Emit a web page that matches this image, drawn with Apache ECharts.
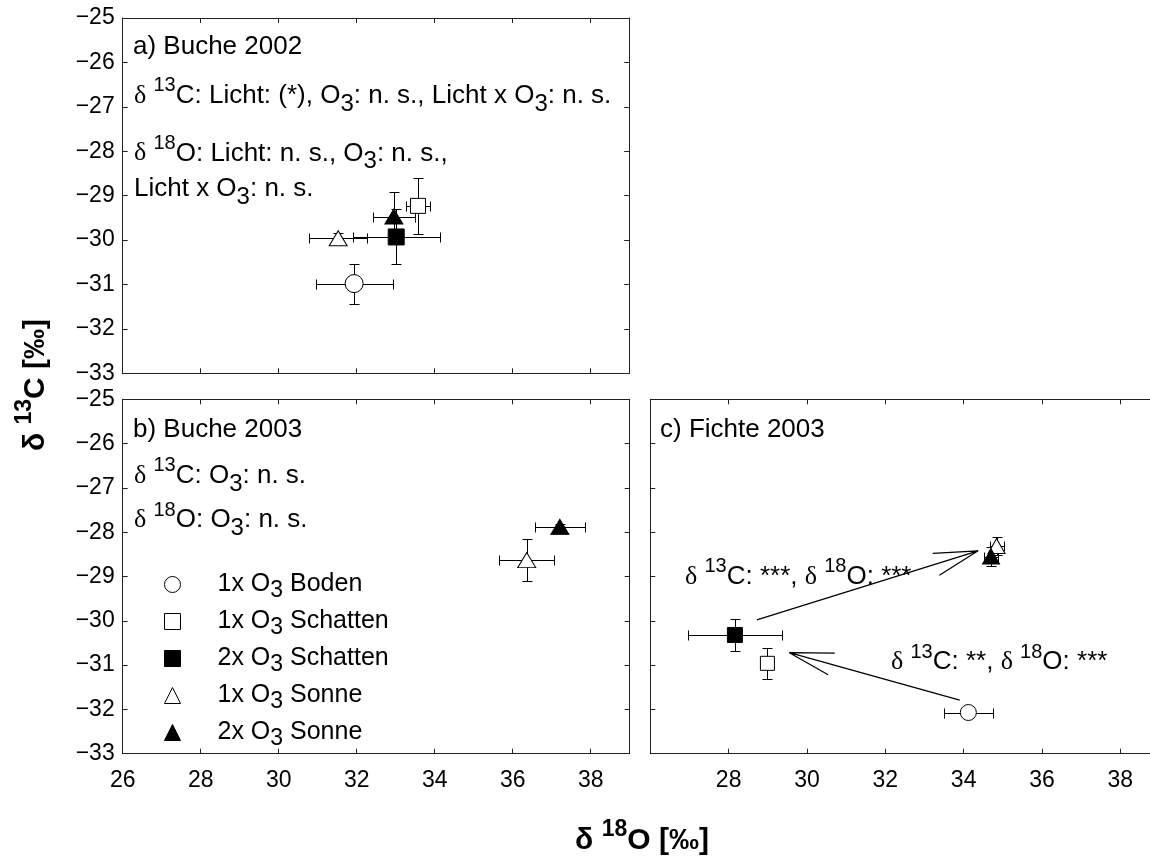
<!DOCTYPE html>
<html><head><meta charset="utf-8">
<script src="https://cdn.jsdelivr.net/npm/echarts@6/dist/echarts.min.js"></script>
<style>html,body{margin:0;padding:0;background:#fff}#c{width:1150px;height:859px}</style>
</head><body><div id="c"></div>
<script>
// ---------------- data ----------------
const groups = ['1x O3 Boden', '1x O3 Schatten', '2x O3 Schatten', '1x O3 Sonne', '2x O3 Sonne'];
// a) Buche 2002
const a_d18O    = [31.94, 33.58, 33.02, 31.53, 32.96];
const a_d13C    = [-30.98, -29.23, -29.93, -29.96, -29.47];
const a_err18O  = [0.99, 0.32, 1.12, 0.74, 0.54];
const a_err13C  = [0.45, 0.63, 0.62, 0.13, 0.56];
// b) Buche 2003 (only sun leaves)
const b_d18O    = [null, null, null, 36.36, 37.21];
const b_d13C    = [null, null, null, -28.63, -27.88];
const b_err18O  = [null, null, null, 0.70, 0.65];
const b_err13C  = [null, null, null, 0.48, 0.06];
// c) Fichte 2003
const c_d18O    = [34.12, 28.99, 28.16, 34.84, 34.70];
const c_d13C    = [-32.07, -30.96, -30.32, -28.31, -28.55];
const c_err18O  = [0.63, 0.10, 1.19, 0.18, 0.18];
const c_err13C  = [0.08, 0.35, 0.37, 0.21, 0.22];
// arrows in panel c (tail -> tip -> arm -> tip -> arm)
const arrow1_x = [28.72, 34.37, 33.21, 34.37, 33.38];
const arrow1_y = [-29.98, -28.42, -28.48, -28.42, -28.97];
const arrow2_x = [33.90, 29.55, 30.71, 29.55, 30.54];
const arrow2_y = [-31.79, -30.72, -30.73, -30.72, -31.22];
// axes
const xMin = 26, xMax = 39, xStep = 2;
const yMin = -33, yMax = -25, yStep = 1;

// ---------------- styling ----------------
const SANS = "'Liberation Sans', Arial, sans-serif";
const SERIF = "'Liberation Serif', 'Times New Roman', serif";
const LINE = '#222';
const symbols = ['circle', 'rect', 'rect', 'triangle', 'triangle'];
const fills = ['#fff', '#fff', '#000', '#fff', '#000'];
const sizesA = [18, 15, 16, [18, 15], [18, 15]];
const sizesC = [16, 14, 15, [17, 15], [17, 15]];

const RICH = {
  t: {fontSize: 26, fontFamily: SANS, lineHeight: 40, fill: '#000'},
  d: {fontSize: 26, fontFamily: SERIF, lineHeight: 40, fill: '#000'},
  p: {fontSize: 20, fontFamily: SANS, lineHeight: 18, padding: [0, 0, 20, 0], fill: '#000'},
  b: {fontSize: 24, fontFamily: SANS, lineHeight: 18, padding: [16, 0, 0, 0], fill: '#000'}
};
const RICHB = {
  t: {fontSize: 30, fontFamily: SANS, fontWeight: 'bold', lineHeight: 40, fill: '#000'},
  p: {fontSize: 23, fontFamily: SANS, fontWeight: 'bold', lineHeight: 20, padding: [0, 0, 22, 0], fill: '#000'}
};
function txt(x, top, text) {
  return {type: 'text', x: x, y: top, silent: true,
    style: {text: text, rich: RICH, fill: '#000', align: 'left', verticalAlign: 'top'}};
}
const minusFmt = v => (v < 0 ? '\u2212' + Math.abs(v) : String(v));

const grids = [
  {left: 122.7, top: 18, width: 506.5, height: 355.3},
  {left: 122.7, top: 399.3, width: 507, height: 354.4},
  {left: 650.3, top: 399.3, width: 509.2, height: 354.4}
];

const xAxes = [], yAxes = [];
grids.forEach((g, gi) => {
  ['bottom', 'top'].forEach(pos => {
    xAxes.push({
      type: 'value', gridIndex: gi, position: pos, min: xMin, max: xMax, interval: xStep,
      axisLine: {show: true, onZero: false, lineStyle: {color: LINE, width: 1}},
      axisTick: {show: true, inside: true, length: 5, lineStyle: {color: LINE}},
      splitLine: {show: false},
      axisLabel: {
        show: pos === 'bottom' && gi > 0, margin: 15, color: '#000', fontSize: 23, fontFamily: SANS,
        formatter: v => (v === xMax || (gi === 2 && v === xMin)) ? '' : String(v)
      }
    });
  });
  ['left', 'right'].forEach(pos => {
    yAxes.push({
      type: 'value', gridIndex: gi, position: pos, min: yMin, max: yMax, interval: yStep,
      axisLine: {show: true, onZero: false, lineStyle: {color: LINE, width: 1}},
      axisTick: {show: true, inside: true, length: 5, lineStyle: {color: LINE}},
      splitLine: {show: false},
      axisLabel: {show: pos === 'left' && gi < 2, margin: 8, color: '#000', fontSize: 23, fontFamily: SANS,
        formatter: minusFmt}
    });
  });
});

function errRender(params, api) {
  const x = api.value(0), y = api.value(1), ex = api.value(2), ey = api.value(3);
  const c = api.coord([x, y]);
  const l = api.coord([x - ex, y])[0], r = api.coord([x + ex, y])[0];
  const t = api.coord([x, y + ey])[1], b = api.coord([x, y - ey])[1];
  const cx = Math.round(c[0]) + 0.5, cy = Math.round(c[1]) + 0.5;
  const L = Math.round(l) + 0.5, R = Math.round(r) + 0.5, T = Math.round(t) + 0.5, B = Math.round(b) + 0.5;
  const cap = 5;
  const st = {stroke: '#000', lineWidth: 1};
  const ln = (x1, y1, x2, y2) => ({type: 'line', shape: {x1, y1, x2, y2}, style: st});
  return {type: 'group', children: [
    ln(L, cy, R, cy), ln(L, cy - cap, L, cy + cap), ln(R, cy - cap, R, cy + cap),
    ln(cx, T, cx, B), ln(cx - cap, T, cx + cap, T), ln(cx - cap, B, cx + cap, B)
  ]};
}

const panels = [
  {x: a_d18O, y: a_d13C, ex: a_err18O, ey: a_err13C, xi: 0, yi: 0, sizes: sizesA},
  {x: b_d18O, y: b_d13C, ex: b_err18O, ey: b_err13C, xi: 2, yi: 2, sizes: sizesA},
  {x: c_d18O, y: c_d13C, ex: c_err18O, ey: c_err13C, xi: 4, yi: 4, sizes: sizesC}
];

const series = [];
panels.forEach(p => {
  const rows = [];
  groups.forEach((g, i) => { if (p.x[i] != null) rows.push([p.x[i], p.y[i], p.ex[i], p.ey[i]]); });
  series.push({type: 'custom', xAxisIndex: p.xi, yAxisIndex: p.yi, renderItem: errRender,
    data: rows, encode: {x: 0, y: 1}, z: 2, silent: true});
  groups.forEach((g, i) => {
    if (p.x[i] == null) return;
    series.push({
      type: 'scatter', name: g, xAxisIndex: p.xi, yAxisIndex: p.yi, z: 5,
      symbol: symbols[i], symbolSize: p.sizes[i],
      itemStyle: {color: fills[i], borderColor: '#000', borderWidth: 1, opacity: 1},
      data: [[p.x[i], p.y[i]]]
    });
  });
});
[[arrow1_x, arrow1_y], [arrow2_x, arrow2_y]].forEach(([ax, ay]) => {
  series.push({type: 'line', xAxisIndex: 4, yAxisIndex: 4, z: 4, silent: true,
    symbol: 'none', lineStyle: {color: '#000', width: 1.2},
    data: ax.map((v, k) => [v, ay[k]])});
});

const option = {
  animation: false,
  backgroundColor: '#fff',
  grid: grids.map(g => Object.assign({outerBoundsMode: 'none', containLabel: false}, g)),
  xAxis: xAxes,
  yAxis: yAxes,
  legend: {
    orient: 'vertical', left: 164, top: 567, padding: 0, itemGap: 2,
    itemWidth: 16, itemHeight: 16, selectedMode: false,
    data: groups.map((g, i) => ({name: g, icon: symbols[i],
      itemStyle: {color: fills[i], borderColor: '#000', borderWidth: 1}})),
    formatter: name => { const parts = name.split('O3'); return '{n|' + parts[0] + 'O}{s|3}{n|' + parts[1] + '}'; },
    textStyle: {
      padding: [0, 0, 0, 32],
      rich: {
        n: {fontSize: 25, fontFamily: SANS, color: '#000', lineHeight: 30},
        s: {fontSize: 23, fontFamily: SANS, color: '#000', lineHeight: 14, padding: [12, 0, 0, 0]}
      }
    }
  },
  graphic: {elements: [
    txt(133, 26.9, '{t|a) Buche 2002}'),
    txt(134, 75.9, '{d|δ}{t| }{p|13}{t|C: Licht: (*), O}{b|3}{t|: n. s., Licht x O}{b|3}{t|: n. s.}'),
    txt(134, 133.6, '{d|δ}{t| }{p|18}{t|O: Licht: n. s., O}{b|3}{t|: n. s.,}'),
    txt(134, 169.2, '{t|Licht x O}{b|3}{t|: n. s.}'),
    txt(133, 410.2, '{t|b) Buche 2003}'),
    txt(134, 455.9, '{d|δ}{t| }{p|13}{t|C: O}{b|3}{t|: n. s.}'),
    txt(134, 500.2, '{d|δ}{t| }{p|18}{t|O: O}{b|3}{t|: n. s.}'),
    txt(660, 410.2, '{t|c) Fichte 2003}'),
    txt(685, 556.9, '{d|δ}{t| }{p|13}{t|C: ***, }{d|δ}{t| }{p|18}{t|O: ***}'),
    txt(891, 642, '{d|δ}{t| }{p|13}{t|C: **, }{d|δ}{t| }{p|18}{t|O: ***}'),
    {type: 'text', x: 642, y: 841, silent: true,
      style: {text: '{t|δ }{p|18}{t|O [‰]}', rich: RICHB, align: 'center', verticalAlign: 'middle'}},
    {type: 'text', x: 36, y: 385, rotation: Math.PI / 2, silent: true,
      style: {text: '{t|δ }{p|13}{t|C [‰]}', rich: RICHB, align: 'center', verticalAlign: 'middle'}}
  ]},
  series: series
};
const chart = echarts.init(document.getElementById('c'), null, {renderer: 'canvas'});
chart.setOption(option);
</script></body></html>
